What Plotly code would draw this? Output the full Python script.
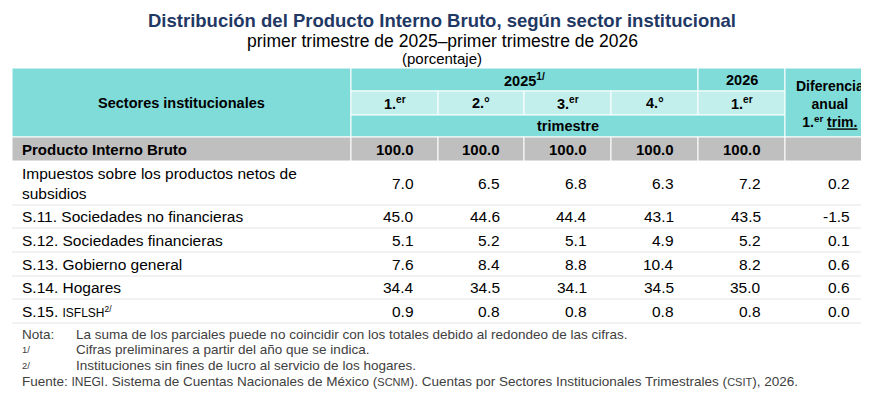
import plotly.graph_objects as go

title = "Distribución del Producto Interno Bruto, según sector institucional"
subtitle = "primer trimestre de 2025–primer trimestre de 2026"
unit = "(porcentaje)"

sectors = ["Producto Interno Bruto",
           "Impuestos sobre los productos netos de<br>subsidios",
           "S.11. Sociedades no financieras",
           "S.12. Sociedades financieras",
           "S.13. Gobierno general",
           "S.14. Hogares",
           "S.15. <span style='font-size:12px'>ISFLSH<sup>2/</sup></span>"]
q1_2025 = [100.0, 7.0, 45.0, 5.1, 7.6, 34.4, 0.9]
q2_2025 = [100.0, 6.5, 44.6, 5.2, 8.4, 34.5, 0.8]
q3_2025 = [100.0, 6.8, 44.4, 5.1, 8.8, 34.1, 0.8]
q4_2025 = [100.0, 6.3, 43.1, 4.9, 10.4, 34.5, 0.8]
q1_2026 = [100.0, 7.2, 43.5, 5.2, 8.2, 35.0, 0.8]
diff = [None, 0.2, -1.5, 0.1, 0.6, 0.6, 0.0]
quarters = ["1.<sup>er</sup>", "2.°", "3.<sup>er</sup>", "4.°", "1.<sup>er</sup>"]

notes = [("Nota:", "La suma de los parciales puede no coincidir con los totales debido al redondeo de las cifras."),
         ("<sup>1/</sup>", "Cifras preliminares a partir del año que se indica."),
         ("<sup>2/</sup>", "Instituciones sin fines de lucro al servicio de los hogares.")]
source = ("Fuente: <span style='font-size:12px'>INEGI</span>. Sistema de Cuentas Nacionales de México "
          "(<span style='font-size:11px'>SCNM</span>). Cuentas por Sectores Institucionales Trimestrales "
          "(<span style='font-size:11px'>CSIT</span>), 2026.")

TEAL = "#80dcd9"
LIGHT = "#c2eeeb"
GREY = "#bfbfbf"
NAVY = "#1f3864"
FONT = "Liberation Sans"

cols = [4, 343, 430, 516, 603, 690, 777, 866]
row_edges = [129, 153, 197, 220, 244, 268, 291, 315]

fig = go.Figure()
shapes = []
ann = []

def rect(x0, y0, x1, y1, color, line="white", w=1):
    shapes.append(dict(type="rect", x0=x0, y0=y0, x1=x1, y1=y1, fillcolor=color,
                       line=dict(color=line, width=w), layer="below"))

def text(x, y, s, size=13, color="black", anchor="center", bold=False):
    if bold:
        s = "<b>" + s + "</b>"
    ann.append(dict(x=x, y=y, text=s, showarrow=False, xanchor=anchor, yanchor="middle",
                    font=dict(size=size, family=FONT, color=color), align="center"))

# header
rect(cols[0], 60, cols[1], 129, TEAL)
rect(cols[1], 60, cols[5], 83, TEAL)
rect(cols[5], 60, cols[6], 83, TEAL)
for i in range(5):
    rect(cols[1 + i], 83, cols[2 + i], 107, LIGHT)
rect(cols[1], 107, cols[6], 129, TEAL)
rect(cols[6], 60, cols[7], 129, TEAL)

text((cols[0] + cols[1]) / 2, 95, "Sectores institucionales", 14.5, bold=True)
text((cols[1] + cols[5]) / 2, 72, "2025<sup>1/</sup>", 14.5, bold=True)
text((cols[5] + cols[6]) / 2, 72, "2026", 14.5, bold=True)
for i, q in enumerate(quarters):
    text((cols[1 + i] + cols[2 + i]) / 2, 95, q, 14.5, bold=True)
text((cols[1] + cols[6]) / 2, 118, "trimestre", 14.5, bold=True)
text((cols[6] + cols[7]) / 2, 96, "Diferencia<br>anual<br>1.<sup>er</sup> <u>trim.</u>", 14, bold=True)

# body
series = [q1_2025, q2_2025, q3_2025, q4_2025, q1_2026, diff]
for r, name in enumerate(sectors):
    y0, y1 = row_edges[r], row_edges[r + 1]
    ym = (y0 + y1) / 2
    if r == 0:
        for c in range(7):
            rect(cols[c], y0, cols[c + 1], y1, GREY)
    else:
        shapes.append(dict(type="line", x0=cols[0], x1=cols[7], y0=y1, y1=y1,
                           line=dict(color="#e4e4e4", width=1)))
    bold = r == 0
    ann_size = 15 if bold else 15.5
    ann.append(dict(x=cols[0] + 8, y=ym, text=("<b>" + name + "</b>") if bold else name,
                    showarrow=False, xanchor="left", yanchor="middle", align="left",
                    font=dict(size=ann_size, family=FONT, color="black")))
    for c, vals in enumerate(series):
        v = vals[r]
        if v is None:
            continue
        text(cols[2 + c] - 22, ym, f"{v:.1f}", ann_size, anchor="right", bold=bold)

# title
text(434, 12, title, 18.5, NAVY, bold=True)
text(434, 33, subtitle, 17.5)
text(434, 50, unit, 15)

# notes
for i, (k, v) in enumerate(notes):
    y = 326 + i * 15.5
    ann.append(dict(x=12, y=y, text=k, showarrow=False, xanchor="left", yanchor="middle",
                    font=dict(size=13.5, family=FONT, color="#404040")))
    ann.append(dict(x=66, y=y, text=v, showarrow=False, xanchor="left", yanchor="middle",
                    font=dict(size=13.5, family=FONT, color="#404040")))
ann.append(dict(x=12, y=373, text=source, showarrow=False, xanchor="left", yanchor="middle",
                font=dict(size=13.5, family=FONT, color="#404040")))

fig.update_layout(width=869, height=410, margin=dict(l=0, r=0, t=0, b=0),
                  paper_bgcolor="white", plot_bgcolor="white",
                  shapes=shapes, annotations=ann, showlegend=False,
                  xaxis=dict(range=[0, 869], visible=False, fixedrange=True),
                  yaxis=dict(range=[410, 0], visible=False, fixedrange=True))
fig.write_html("out.html")
